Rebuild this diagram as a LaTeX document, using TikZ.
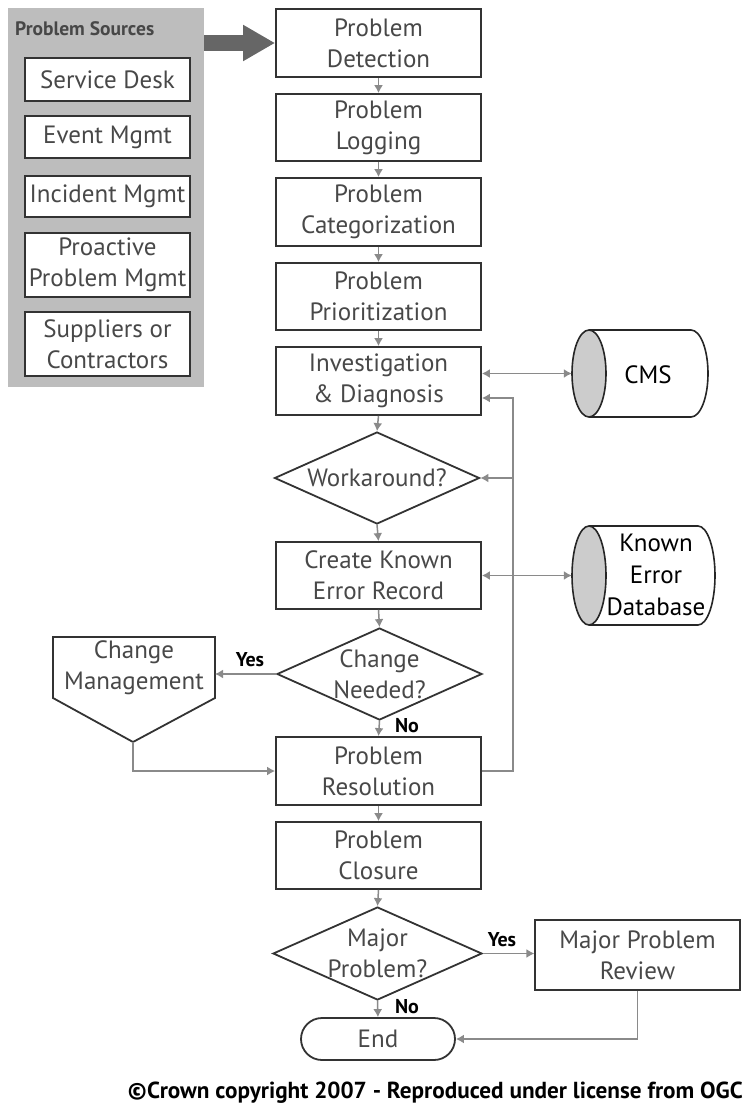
\documentclass[tikz,border=0pt]{standalone}
\usepackage{fontspec}
\setmainfont{PT Sans}
\usetikzlibrary{shapes.geometric,arrows.meta}
\definecolor{txtgray}{HTML}{484848}
\definecolor{linegray}{HTML}{8A8A8A}
\definecolor{panelgray}{HTML}{BDBDBD}
\begin{document}
\begin{tikzpicture}[x=1pt,y=-1pt,
  mainfont/.style={font=\fontsize{25}{31}\selectfont},
  box/.style={draw=black!80, line width=1.8pt, fill=white, minimum width=205pt,
    minimum height=67pt, inner sep=0pt, align=center, text=txtgray, mainfont},
  srcbox/.style={box, minimum width=165pt},
  dia/.style={draw=black!80, line width=1.8pt, fill=white, diamond, inner sep=0pt,
    minimum width=205pt, minimum height=92pt},
  dtext/.style={align=center, text=txtgray, mainfont, inner sep=0pt},
  conn/.style={draw=linegray, line width=1.5pt, -{Latex[length=8pt,width=9pt]}},
  biconn/.style={draw=linegray, line width=1.5pt, {Latex[length=8pt,width=9pt]}-{Latex[length=8pt,width=9pt]}},
  plain/.style={draw=linegray, line width=1.5pt},
  yn/.style={font=\fontsize{20}{22}\selectfont\bfseries, text=black, inner sep=0pt},
  dbtext/.style={align=center, text=black, font=\fontsize{25}{32}\selectfont, inner sep=0pt}
]
\useasboundingbox (0,0) rectangle (745,1113);

% Problem sources panel
\node[fill=panelgray, minimum width=196pt, minimum height=379pt, inner sep=0pt] (panel) at (106,197.5) {};
\node[anchor=west, font=\fontsize{19.5}{22}\selectfont\bfseries, text=black!72, inner sep=0pt] (ptitle) at (15,29) {Problem Sources};
\node[srcbox, minimum height=43pt] (sd) at (107.5,79.5) {Service Desk};
\node[srcbox, minimum height=42pt] (em) at (107.5,137) {Event Mgmt};
\node[srcbox, minimum height=41pt] (im) at (107.5,196.5) {Incident Mgmt};
\node[srcbox, minimum height=64pt] (pp) at (107.5,265) {Proactive\\Problem Mgmt};
\node[srcbox, minimum height=64pt] (sc) at (107.5,344) {Suppliers or\\Contractors};

% main column
\node[box, minimum height=68pt] (det) at (378.5,43) {Problem\\Detection};
\node[box] (log) at (378.5,127.5) {Problem\\Logging};
\node[box, minimum height=68pt] (cat) at (378.5,212) {Problem\\Categorization};
\node[box] (pri) at (378.5,296.5) {Problem\\Prioritization};
\node[box, minimum height=68pt] (inv) at (378.5,381) {Investigation\\\& Diagnosis};
\node[dia] (work) at (377,478) {};
\node[dtext] at (work) {Workaround?};
\node[box] (ker) at (378.5,575.5) {Create Known\\Error Record};
\node[dia] (chg) at (379.5,674) {};
\node[dtext] at (chg) {Change\\Needed?};
\node[box, minimum height=68pt] (res) at (378.5,771) {Problem\\Resolution};
\node[box] (clo) at (378.5,855.5) {Problem\\Closure};
\node[dia, minimum width=209pt, minimum height=93pt] (maj) at (377.5,953.5) {};
\node[dtext] at (maj) {Major\\Problem?};
\node[box, minimum width=154pt, minimum height=42pt, rounded corners=21pt] (end) at (378,1039) {End};
\node[box, line width=1.2pt, minimum height=70pt] (mpr) at (637.5,955) {Major Problem\\Review};

% Change management (off-page style shape)
\draw[draw=black!80, line width=1.8pt, fill=white] (53,637) -- (215,637) -- (215,698) -- (133,742) -- (53,698) -- cycle;
\node[dtext] (cmtext) at (134,668) {Change\\Management};
\coordinate (cmeast) at (215,674);
\coordinate (cmbot) at (133,742);

% CMS cylinder
\node[minimum width=136pt, minimum height=87pt, inner sep=0pt] (cms) at (640,373.5) {};
\draw[draw=black!85, line width=1.6pt, fill=white] (589,330) -- (691,330) arc[start angle=90, end angle=-90, x radius=17pt, y radius=43.5pt] -- (589,417);
\draw[draw=black!85, line width=1.6pt, fill=black!20] (589,373.5) ellipse[x radius=17pt, y radius=43.5pt];
\node[dbtext] at (648,375) {CMS};

% KEDB cylinder
\node[minimum width=143pt, minimum height=99pt, inner sep=0pt] (kedb) at (643.5,575.5) {};
\draw[draw=black!85, line width=1.6pt, fill=white] (589,526) -- (698,526) arc[start angle=90, end angle=-90, x radius=17pt, y radius=49.5pt] -- (589,625);
\draw[draw=black!85, line width=1.6pt, fill=black!20] (589,575.5) ellipse[x radius=17pt, y radius=49.5pt];
\node[dbtext] at (656,575) {Known\\Error\\Database};

% thick arrow from sources
\coordinate (pe) at (204,43);
\draw[draw=black!60, line width=16pt, -{Triangle[length=32pt,width=34pt]}] (pe) -- (det.west);

% vertical flow
\draw[conn] (det.south) -- (log.north);
\draw[conn] (log.south) -- (cat.north);
\draw[conn] (cat.south) -- (pri.north);
\draw[conn] (pri.south) -- (inv.north);
\draw[conn] (inv.south) -- (work.north);
\draw[conn] (work.south) -- (ker.north);
\draw[conn] (ker.south) -- (chg.north);
\draw[conn] (chg.south) -- (res.north);
\draw[conn] (res.south) -- (clo.north);
\draw[conn] (clo.south) -- (maj.north);
\draw[conn] (maj.south) -- (end.north);

% database links
\draw[biconn] (inv.east |- cms.west) -- (cms.west);
\draw[biconn] (ker.east) -- (kedb.west);

% feedback loop
\coordinate (fbtop) at (513,398);
\coordinate (fbmid) at (513,478);
\draw[conn] (res.east) -| (fbtop) -- (inv.east |- fbtop);
\draw[conn] (fbmid) -- (work.east);

% change needed
\draw[conn] (chg.west) -- (cmeast);
\draw[conn] (cmbot) |- (res.west);
\node[yn] at (250,660) {Yes};
\node[yn] at (407,726) {No};

% major problem
\draw[conn] (maj.east) -- (mpr.west |- maj.east);
\draw[conn] (mpr.south) |- (end.east);
\node[yn] at (502,940) {Yes};
\node[yn] at (407,1007) {No};

% copyright
\node[anchor=east, font=\fontsize{23.2}{25}\selectfont\bfseries, text=black, inner sep=0pt] (copy) at (743,1093) {©Crown copyright 2007 - Reproduced under license from OGC};
\end{tikzpicture}
\end{document}
